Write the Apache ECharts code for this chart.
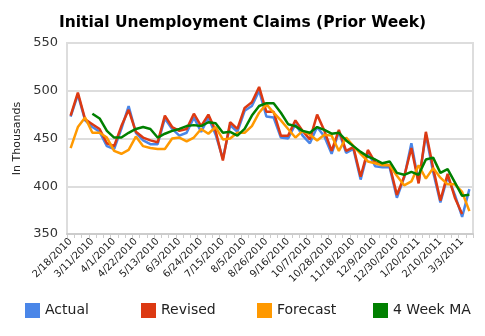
<!DOCTYPE html>
<html><head><meta charset="utf-8">
<script src="https://cdn.jsdelivr.net/npm/echarts@6/dist/echarts.min.js"></script>
<style>html,body{margin:0;padding:0;background:#fff}#c{width:485px;height:336px}</style>
</head><body><div id="c"></div>
<script>
const categories = ["2/18/2010","2/25/2010","3/4/2010","3/11/2010","3/18/2010","3/25/2010","4/1/2010","4/8/2010","4/15/2010","4/22/2010","4/29/2010","5/6/2010","5/13/2010","5/20/2010","5/27/2010","6/3/2010","6/10/2010","6/17/2010","6/24/2010","7/1/2010","7/8/2010","7/15/2010","7/22/2010","7/29/2010","8/5/2010","8/12/2010","8/19/2010","8/26/2010","9/2/2010","9/9/2010","9/16/2010","9/23/2010","9/30/2010","10/7/2010","10/14/2010","10/21/2010","10/28/2010","11/4/2010","11/11/2010","11/18/2010","11/25/2010","12/2/2010","12/9/2010","12/16/2010","12/23/2010","12/30/2010","1/6/2011","1/13/2011","1/20/2011","1/27/2011","2/3/2011","2/10/2011","2/17/2011","2/24/2011","3/3/2011","3/10/2011"];
const actual = [473,496,469,462,457,442,439,460,484,456,448,444,444,471,460,453,456,472,457,472,454,429,464,457,479,484,500,473,472,451,450,465,453,445,462,452,434,457,435,439,407,436,421,420,420,388,409,445,404,454,415,383,410,391,368,397];
const revised = [474,498,470,465,460,445,442,463,480,457,451,448,446,474,462,458,460,476,463,475,458,427,467,460,482,488,504,478,478,453,453,469,458,449,475,458,437,459,437,441,410,438,425,423,422,391,410,440,403,457,419,385,413,388,371,null];
const forecast = [440,462,472,456,456,451,437,434,438,452,442,440,439,439,450,451,447,451,460,455,462,449,450,456,456,463,477,486,477,469,460,451,458,454,448,454,453,437,451,442,434,426,424,422,422,411,401,405,422,408,419,409,402,402,394,374];
const ma4 = [null,null,null,476,471,458,451,451,456,460,462,460,451,455,458,460,463,464,463,467,466,456,457,453,460,474,484,487,487,477,465,463,458,456,462,459,455,456,448,442,436,431,428,424,426,414,412,415,412,428,430,414,418,404,390,391];
const yTicks = [350,400,450,500,550];
const seriesNames = ["Actual","Revised","Forecast","4 Week MA"];
const colors = ["#4a86e8","#dc3912","#ff9900","#008000"];

const chart = echarts.init(document.getElementById('c'), null, {renderer:'canvas'});
const font = 'DejaVu Sans';
const dataSets = [actual, revised, forecast, ma4];
const legendLefts = [20,136,252,368];
chart.setOption({
  animation:false,
  color: colors,
  title:{text:'Initial Unemployment Claims (Prior Week)', left:'center', top:10,
    textStyle:{fontFamily:font, fontSize:15.5, fontWeight:'bold', color:'#000'}},
  legend: seriesNames.map((n,i)=>({data:[n], left:legendLefts[i], top:298, itemWidth:15, itemHeight:15, itemGap:0,
    icon:'rect', textStyle:{fontFamily:font, fontSize:14, color:'#222'}})),
  grid:{left:67, right:12, top:43, bottom:102, show:true, borderColor:'#dddddd', borderWidth:2},
  xAxis:{type:'category', data:categories, boundaryGap:true,
    axisLine:{lineStyle:{color:'#cccccc', width:2}},
    axisTick:{show:true, interval:0, length:4, lineStyle:{color:'#cccccc'}},
    axisLabel:{interval:2, rotate:45, fontFamily:font, fontSize:10, color:'#222', margin:6}},
  yAxis:{type:'value', min:yTicks[0], max:yTicks[yTicks.length-1], interval:50,
    name:'In Thousands', nameLocation:'middle', nameGap:44, nameRotate:90,
    nameTextStyle:{fontFamily:font, fontSize:11, color:'#222'},
    axisLine:{show:true, lineStyle:{color:'#dddddd', width:2}},
    axisTick:{show:false},
    splitLine:{lineStyle:{color:'#dddddd', width:2}},
    axisLabel:{fontFamily:font, fontSize:13, color:'#333', margin:9}},
  series: seriesNames.map((n,i)=>({name:n, type:'line', data:dataSets[i], showSymbol:false, symbol:'none',
    lineStyle:{width:2.5, color:colors[i]}, itemStyle:{color:colors[i]}, connectNulls:false}))
});
</script></body></html>
